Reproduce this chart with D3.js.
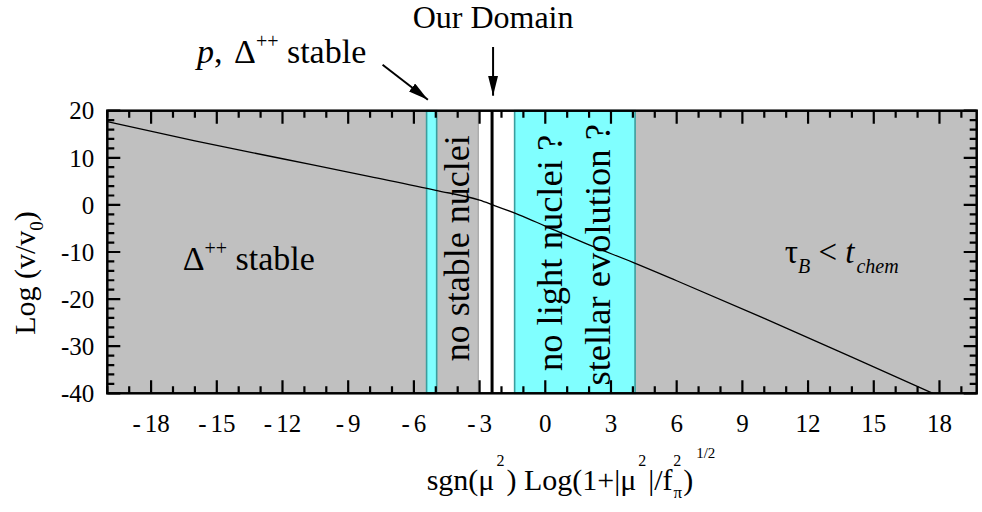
<!DOCTYPE html>
<html><head><meta charset="utf-8">
<script src="https://cdn.jsdelivr.net/npm/d3@7"></script>
<style>
body{margin:0;background:#fff;position:relative;width:982px;height:512px;overflow:hidden}
svg{display:block}
#ticksvg{position:absolute;left:0;top:0}
text{font-family:"Liberation Serif","Times New Roman",serif;fill:#000}
</style>
</head><body>
<svg id="chart" width="982" height="512"></svg>
<script>
// ---- data ----
const curveX = [-20, -16, -12, -8, -5, -3, -2.4, -1.2, 0, 2, 4, 6, 10, 14, 17.7];
const curveY = [17.7, 13.6, 9.8, 6.0, 3.1, 1.0, 0.0, -2.1, -4.5, -8.5, -12.2, -16.1, -24.1, -32.3, -40];
const xMajorTicks = [-18, -15, -12, -9, -6, -3, 0, 3, 6, 9, 12, 15, 18];
const yMajorTicks = [20, 10, 0, -10, -20, -30, -40];
const cyanBands = [[-5.42, -4.96], [-1.40, 4.10]];
const whiteBands = [[-3.06, -1.40]];
const domainLine = -2.43;

// ---- layout ----
const W = 982, H = 512;
const svg = d3.select("#chart");
const defs = svg.append("defs");
const X0 = 107.3, X1 = 976.7, Y0 = 110.7, Y1 = 393.3;
const x = d3.scaleLinear().domain([-20, 19.7]).range([X0, X1]);
const y = d3.scaleLinear().domain([-40, 20]).range([Y1, Y0]);
const pw = X1 - X0, ph = Y1 - Y0;

const GRAY = "#c0c0c0", CYAN = "#80ffff", TEAL = "#3a9e9e";

// background
svg.append("rect").attr("x", X0).attr("y", Y0).attr("width", pw).attr("height", ph).attr("fill", GRAY);

svg.append("g").selectAll("rect").data(whiteBands).join("rect")
  .attr("x", d => x(d[0])).attr("y", Y0).attr("width", d => x(d[1]) - x(d[0])).attr("height", ph)
  .attr("fill", "#fff").attr("stroke", "#9a9a9a").attr("stroke-width", 1);

svg.append("g").selectAll("rect").data(cyanBands).join("rect")
  .attr("x", d => x(d[0])).attr("y", Y0).attr("width", d => x(d[1]) - x(d[0])).attr("height", ph)
  .attr("fill", CYAN).attr("stroke", TEAL).attr("stroke-width", 1.6);

svg.append("line").attr("x1", x(domainLine)).attr("x2", x(domainLine))
  .attr("y1", Y0).attr("y2", Y1).attr("stroke", "#000").attr("stroke-width", 3);

// curve
defs.append("clipPath").attr("id", "plotclip").append("rect")
  .attr("x", X0).attr("y", Y0).attr("width", pw).attr("height", ph);
const pts = curveX.map((v, i) => [v, curveY[i]]);
svg.append("path").datum(pts).attr("clip-path", "url(#plotclip)")
  .attr("fill", "none").attr("stroke", "#000").attr("stroke-width", 1.3)
  .attr("d", d3.line().x(d => x(d[0])).y(d => y(d[1])).curve(d3.curveMonotoneX));

// frame
svg.append("rect").attr("x", X0).attr("y", Y0).attr("width", pw).attr("height", ph)
  .attr("fill", "none").attr("stroke", "#000").attr("stroke-width", 2.5);

// tick labels
const xl = svg.append("g").attr("font-size", 25);
xMajorTicks.forEach(v => {
  const t = xl.append("text").attr("x", x(v)).attr("y", Y1 + 39).attr("text-anchor", "middle");
  if (v < 0) { t.append("tspan").text("-"); t.append("tspan").attr("dx", 4).text(String(-v)); }
  else t.text(String(v));
});
const yl = svg.append("g").attr("font-size", 25);
yMajorTicks.forEach(v => {
  yl.append("text").attr("x", X0 - 13).attr("y", y(v)).attr("dy", "0.35em").attr("text-anchor", "end").text(String(v));
});

// rich text helper
function rich(segs, size, anchor, transform) {
  const t = svg.append("text").attr("text-anchor", anchor || "start").attr("font-size", size)
    .attr("transform", transform);
  let prev = 0;
  segs.forEach(s => {
    const sp = t.append("tspan").text(s.t);
    const sh = s.shift || 0;
    if (sh !== prev) sp.attr("dy", sh - prev);
    prev = sh;
    if (s.size) sp.attr("font-size", s.size);
    if (s.italic) sp.attr("font-style", "italic");
    if (s.dx) sp.attr("dx", s.dx);
  });
  return t;
}

// axis titles
rich([{t: "sgn(μ"}, {t: "2", size: 16, shift: -24, dx: 2}, {t: ")", dx: 2}, {t: " Log(1+|μ"},
      {t: "2", size: 16, shift: -24, dx: 2}, {t: "|/f", dx: 2}, {t: "π", size: 17, shift: 8, dx: 1},
      {t: "2", size: 16, shift: -24, dx: -9}, {t: ")", dx: 2}, {t: "1/2", size: 15, shift: -32, dx: 3}],
     30, "middle", `translate(571,490)`);
rich([{t: "Log (v/v"}, {t: "0", size: 19, shift: 8}, {t: ")"}], 30, "middle", `translate(35,273) rotate(-90)`);

// region labels
rich([{t: "Δ"}, {t: "++", size: 20, shift: -15}, {t: " stable"}], 34, "start",
  `translate(${x(-16.56)},${y(-13.8)})`);
rich([{t: "τ"}, {t: "B", size: 20, shift: 10, italic: true}, {t: " < "}, {t: "t", italic: true},
      {t: "chem", size: 20, shift: 10, italic: true, dx: 2}], 33, "start", `translate(${x(10.93)},${y(-12.4)})`);
rich([{t: "no stable nuclei"}], 36, "middle", `translate(${x(-3.5)},${y(-9.2)}) rotate(-90)`);
rich([{t: "no light nuclei ?"}], 36.5, "middle", `translate(${x(0.78)},${y(-10.2)}) rotate(-90)`);
rich([{t: "stellar evolution ?"}], 36.5, "middle", `translate(${x(2.94)},${y(-10.6)}) rotate(-90)`);

// annotations above
rich([{t: "Our Domain"}], 32, "middle", `translate(${x(domainLine) + 1},28)`);
rich([{t: "p", italic: true}, {t: ", "}, {t: "Δ", dx: 3}, {t: "++", size: 20, shift: -15}, {t: " stable"}], 34, "start",
  `translate(197,63)`);

defs.append("marker").attr("id", "ah").attr("markerUnits", "userSpaceOnUse")
  .attr("markerWidth", 20).attr("markerHeight", 10).attr("refX", 20).attr("refY", 5)
  .attr("orient", "auto").attr("viewBox", "0 0 20 10")
  .append("path").attr("d", "M0,0 L20,5 L0,10 Z").attr("fill", "#000");
svg.append("line").attr("x1", x(-7.43)).attr("y1", Y0 - 46).attr("x2", x(-5.36)).attr("y2", Y0 - 11)
  .attr("stroke", "#000").attr("stroke-width", 2).attr("marker-end", "url(#ah)");
svg.append("line").attr("x1", x(domainLine) + 1).attr("y1", 47).attr("x2", x(domainLine) + 1).attr("y2", Y0 - 15)
  .attr("stroke", "#000").attr("stroke-width", 2).attr("marker-end", "url(#ah)");

// ticks: separate overlay svg on top of the chart, inward on all four sides
const tsvg = d3.select("body").append("svg").attr("id", "ticksvg").attr("width", W).attr("height", H);
const xTickData = d3.range(-20, 20, 1).map(v => ({v: v, len: xMajorTicks.indexOf(v) >= 0 ? 13 : 7}));
const yTickData = d3.range(-40, 21, 2).map(v => ({v: v, len: yMajorTicks.indexOf(v) >= 0 ? 13 : 7}));
const segs = [];
xTickData.forEach(d => {
  segs.push(`M${x(d.v)},${Y1}V${Y1 - d.len}`);
  segs.push(`M${x(d.v)},${Y0}V${Y0 + d.len}`);
});
yTickData.forEach(d => {
  segs.push(`M${X0},${y(d.v)}H${X0 + d.len}`);
  segs.push(`M${X1},${y(d.v)}H${X1 - d.len}`);
});
tsvg.append("path").attr("d", segs.join("")).attr("fill", "none")
  .attr("stroke", "black").attr("stroke-width", 2.2);
</script>
</body></html>
